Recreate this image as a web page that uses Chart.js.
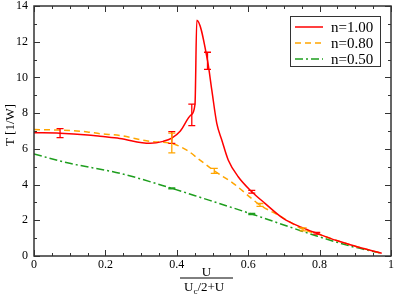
<!DOCTYPE html>
<html>
<head>
<meta charset="utf-8">
<script src="https://cdn.jsdelivr.net/npm/chart.js@4"></script>
<style>
  html, body { margin: 0; padding: 0; background: #fff; }
  #wrap { width: 395px; height: 300px; }
</style>
</head>
<body>
<div id="wrap"><canvas id="grafica" width="395" height="300"></canvas></div>
<script>
/* ===== datos ===== */
const xTicks = [0, 0.2, 0.4, 0.6, 0.8, 1];
const yTicks = [0, 2, 4, 6, 8, 10, 12, 14];

const seriesNames = ['n=1.00', 'n=0.80', 'n=0.50'];

// n=1.00
const xRed = [0, 0.073, 0.15, 0.185, 0.24, 0.325, 0.362, 0.386, 0.41, 0.44, 0.451, 0.456,
              0.486, 0.498, 0.512, 0.526, 0.544, 0.572, 0.61, 0.647, 0.698, 0.75, 0.792, 0.85, 0.9, 0.974];
const yRed = [6.9, 6.88, 6.78, 6.7, 6.58, 6.31, 6.42, 6.6, 7.0, 7.9, 8.5, 13.2,
              10.95, 9.3, 7.43, 6.5, 5.38, 4.44, 3.6, 2.95, 2.11, 1.6, 1.27, 0.85, 0.55, 0.15];
// n=0.80
const xOrange = [0, 0.073, 0.15, 0.185, 0.24, 0.325, 0.386, 0.428, 0.465, 0.505, 0.558, 0.633, 0.689, 0.754, 0.8, 0.85, 0.9, 0.974];
const yOrange = [7.08, 7.05, 6.95, 6.85, 6.75, 6.42, 6.3, 5.93, 5.37, 4.77, 4.07, 2.86, 2.24, 1.49, 1.2, 0.85, 0.55, 0.15];
// n=0.50
const xGreen = [0, 0.1, 0.241, 0.386, 0.474, 0.61, 0.792, 0.885, 0.974];
const yGreen = [5.71, 5.19, 4.63, 3.79, 3.23, 2.35, 1.12, 0.56, 0.15];

// barras de error (x, centro, semiancho)
const errRedX = [0.073, 0.386, 0.442, 0.486, 0.61, 0.792];
const errRedY = [6.88, 6.64, 7.9, 10.93, 3.6, 1.27];
const errRedE = [0.25, 0.33, 0.6, 0.48, 0.08, 0.05];
const errOrangeX = [0.386, 0.505, 0.633, 0.754];
const errOrangeY = [6.33, 4.77, 2.86, 1.49];
const errOrangeE = [0.55, 0.14, 0.08, 0.08];
const errGreenX = [0.386, 0.61];
const errGreenY = [3.79, 2.35];
const errGreenE = [0.03, 0.03];

const colores = ['#ff0000', '#ffa500', '#1e9e1e'];
const guiones = [[], [6, 4], [8, 3, 2, 3]];
const serif = "'Liberation Serif', 'Times New Roman', serif";

const pares = (xs, ys) => xs.map((x, i) => ({ x: x, y: ys[i] }));

/* ===== plugin: marco, ticks internos, barras de error, leyenda y titulos ===== */
const adornos = {
    id: 'adornos',
    afterDatasetsDraw(chart) {
        const ctx = chart.ctx;
        const a = chart.chartArea;
        const sx = chart.scales.x;
        const sy = chart.scales.y;

        // barras de error
        const errs = [
            [errRedX, errRedY, errRedE],
            [errOrangeX, errOrangeY, errOrangeE],
            [errGreenX, errGreenY, errGreenE]
        ];
        errs.forEach((e, k) => {
            ctx.save();
            ctx.strokeStyle = colores[k];
            ctx.lineWidth = 1.3;
            e[0].forEach((x, i) => {
                const px = sx.getPixelForValue(x);
                const top = sy.getPixelForValue(e[1][i] + e[2][i]);
                const bot = sy.getPixelForValue(e[1][i] - e[2][i]);
                ctx.beginPath();
                ctx.moveTo(px, top); ctx.lineTo(px, bot);
                ctx.moveTo(px - 3.5, top); ctx.lineTo(px + 3.5, top);
                ctx.moveTo(px - 3.5, bot); ctx.lineTo(px + 3.5, bot);
                ctx.stroke();
            });
            ctx.restore();
        });

        // marco y ticks
        ctx.save();
        ctx.strokeStyle = '#333';
        ctx.lineWidth = 1.5;
        ctx.strokeRect(a.left, a.top, a.right - a.left, a.bottom - a.top);
        ctx.lineWidth = 1;
        ctx.beginPath();
        for (let i = 0; i <= 20; i++) {
            const v = i * 0.05;
            const px = Math.round(sx.getPixelForValue(v)) + 0.5;
            const len = (i % 4 === 0) ? 6 : 3;
            ctx.moveTo(px, a.bottom); ctx.lineTo(px, a.bottom - len);
            ctx.moveTo(px, a.top); ctx.lineTo(px, a.top + len);
        }
        for (let v = 0; v <= 14; v++) {
            const py = Math.round(sy.getPixelForValue(v)) + 0.5;
            const len = (v % 2 === 0) ? 6 : 3;
            ctx.moveTo(a.left, py); ctx.lineTo(a.left + len, py);
            ctx.moveTo(a.right, py); ctx.lineTo(a.right - len, py);
        }
        ctx.stroke();
        ctx.restore();

        // leyenda
        ctx.save();
        ctx.fillStyle = '#fff';
        ctx.fillRect(290, 16.5, 90, 50);
        ctx.strokeStyle = '#333';
        ctx.lineWidth = 1;
        ctx.strokeRect(290.5, 16.5, 90, 50);
        ctx.font = '15px ' + serif;
        ctx.textBaseline = 'middle';
        seriesNames.forEach((nombre, k) => {
            const y = 27 + k * 16;
            ctx.strokeStyle = colores[k];
            ctx.lineWidth = 1.5;
            ctx.setLineDash(guiones[k]);
            ctx.beginPath();
            ctx.moveTo(295, y); ctx.lineTo(323, y);
            ctx.stroke();
            ctx.setLineDash([]);
            ctx.fillStyle = '#000';
            ctx.fillText(nombre, 331, y + 1);
        });
        ctx.restore();

        // titulo eje y
        ctx.save();
        ctx.fillStyle = '#000';
        ctx.font = '13px ' + serif;
        ctx.translate(11, 125);
        ctx.rotate(-Math.PI / 2);
        ctx.textAlign = 'center';
        ctx.textBaseline = 'middle';
        ctx.fillText('T [1/W]', 0, 0);
        ctx.restore();

        // titulo eje x (fraccion)
        ctx.save();
        ctx.fillStyle = '#000';
        ctx.font = '13px ' + serif;
        ctx.textAlign = 'center';
        ctx.textBaseline = 'alphabetic';
        ctx.fillText('U', 206.5, 275.5);
        ctx.strokeStyle = '#000';
        ctx.lineWidth = 1;
        ctx.beginPath();
        ctx.moveTo(180, 278); ctx.lineTo(233, 278);
        ctx.stroke();
        ctx.textAlign = 'left';
        ctx.fillText('U', 184, 290.5);
        const wU = ctx.measureText('U').width;
        ctx.font = '9px ' + serif;
        ctx.fillText('c', 184 + wU, 294);
        const wc = ctx.measureText('c').width;
        ctx.font = '13px ' + serif;
        ctx.fillText('/2+U', 184 + wU + wc, 290.5);
        ctx.restore();
    }
};

const ctx = document.getElementById('grafica').getContext('2d');
new Chart(ctx, {
    type: 'line',
    data: {
        datasets: [
            { label: seriesNames[0], data: pares(xRed, yRed), borderColor: colores[0], borderWidth: 1.5, borderDash: guiones[0] },
            { label: seriesNames[1], data: pares(xOrange, yOrange), borderColor: colores[1], borderWidth: 1.5, borderDash: guiones[1] },
            { label: seriesNames[2], data: pares(xGreen, yGreen), borderColor: colores[2], borderWidth: 1.5, borderDash: guiones[2] }
        ]
    },
    options: {
        responsive: false,
        animation: false,
        devicePixelRatio: 1,
        elements: { point: { radius: 0 }, line: { cubicInterpolationMode: 'monotone' } },
        layout: { padding: { top: 6, right: 4, left: 0, bottom: 0 } },
        plugins: {
            legend: { display: false },
            tooltip: { enabled: false }
        },
        scales: {
            x: {
                type: 'linear',
                min: 0, max: 1,
                grid: { display: false, drawTicks: false },
                border: { display: false },
                afterBuildTicks: s => { s.ticks = xTicks.map(v => ({ value: v })); },
                afterFit: s => { s.height = 44; s.paddingLeft = 0; s.paddingRight = 0; },
                ticks: {
                    padding: 2,
                    maxRotation: 0,
                    color: '#000',
                    font: { family: serif, size: 12 },
                    callback: v => String(v)
                }
            },
            y: {
                type: 'linear',
                min: 0, max: 14,
                grid: { display: false, drawTicks: false },
                border: { display: false },
                afterBuildTicks: s => { s.ticks = yTicks.map(v => ({ value: v })); },
                afterFit: s => { s.width = 34; s.paddingTop = 0; s.paddingBottom = 0; },
                ticks: {
                    padding: 6,
                    color: '#000',
                    font: { family: serif, size: 12 },
                    callback: v => String(v)
                }
            }
        }
    },
    plugins: [adornos]
});
</script>
</body>
</html>
